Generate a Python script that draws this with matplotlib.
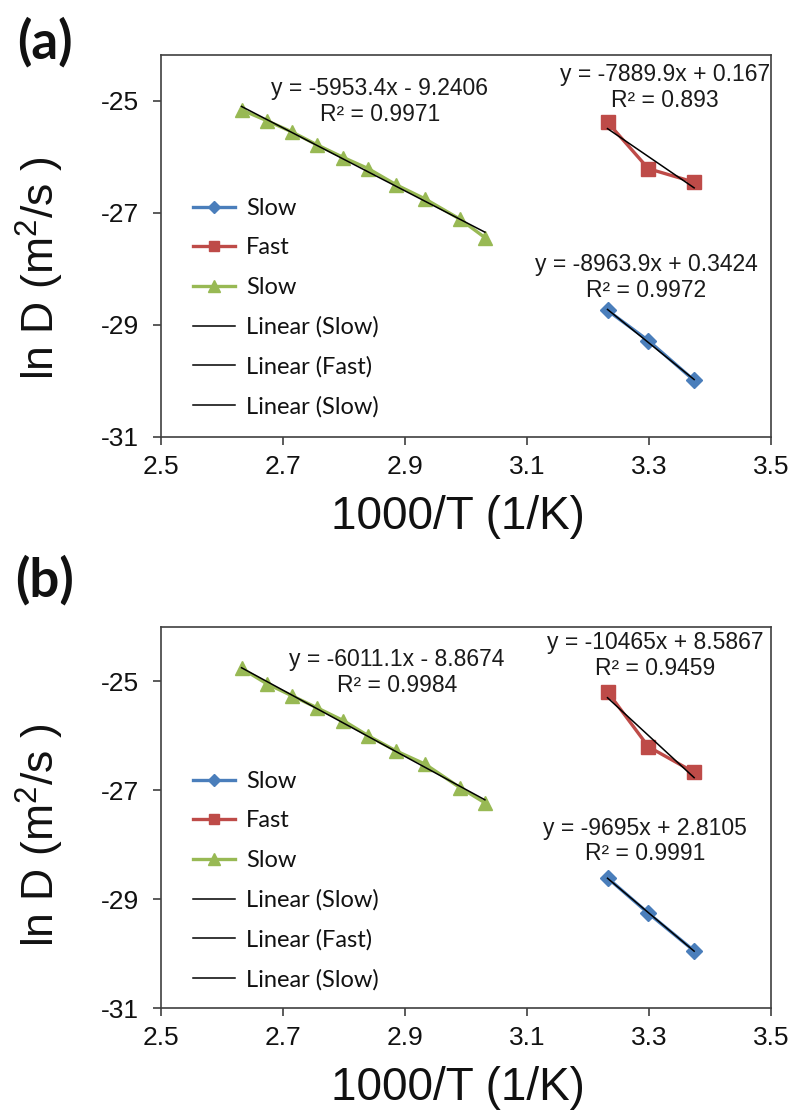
import numpy as np
import matplotlib
matplotlib.use("Agg")
import matplotlib.pyplot as plt

plt.rcParams["font.family"] = ["Liberation Sans", "DejaVu Sans"]
plt.rcParams["axes.unicode_minus"] = False
plt.rcParams["mathtext.default"] = "regular"

# 1000/T values
x_slow_hi = [2.632, 2.673, 2.714, 2.755, 2.799, 2.840, 2.886, 2.933, 2.990, 3.031]
x_low = [3.232, 3.299, 3.374]

# panel (a)
a_blue = [-28.74, -29.28, -29.99]
a_red = [-25.38, -26.21, -26.45]
a_green = [-25.16, -25.35, -25.55, -25.78, -26.01, -26.21, -26.50, -26.75, -27.11, -27.44]
a_eqs = ["y = -8963.9x + 0.3424\nR² = 0.9972",
         "y = -7889.9x + 0.167\nR² = 0.893",
         "y = -5953.4x - 9.2406\nR² = 0.9971"]

# panel (b)
b_blue = [-28.61, -29.26, -29.95]
b_red = [-25.19, -26.20, -26.67]
b_green = [-24.76, -25.04, -25.26, -25.48, -25.72, -26.00, -26.28, -26.52, -26.95, -27.23]
b_eqs = ["y = -9695x + 2.8105\nR² = 0.9991",
         "y = -10465x + 8.5867\nR² = 0.9459",
         "y = -6011.1x - 8.8674\nR² = 0.9984"]

series_names = ["Slow", "Fast", "Slow"]
colors = ["#4A7EBB", "#BE4B48", "#98B954"]
markers = ["D", "s", "^"]
msizes = [8, 9.5, 10.5]

W, H = 793, 1115
fig = plt.figure(figsize=(W / 100, H / 100), dpi=100)


def panel(box, ymax, blue, red, green, eqs, eq_pos, tag, tag_y, ylab_y, leg_top):
    left, top, right, bottom = box
    ax = fig.add_axes([left / W, 1 - bottom / H, (right - left) / W, (bottom - top) / H])
    xs = [x_low, x_low, x_slow_hi]
    ys = [blue, red, green]
    handles = []
    for x, y, c, m, ms, name in zip(xs, ys, colors, markers, msizes, series_names):
        ln, = ax.plot(x, y, color=c, marker=m, markersize=ms, lw=2.4,
                      markeredgecolor=c, label=name, zorder=2)
        handles.append(ln)
    # linear trendlines
    for x, y, name in zip(xs, ys, series_names):
        k, b = np.polyfit(x, y, 1)
        xx = np.array([min(x), max(x)])
        ln, = ax.plot(xx, k * xx + b, color="black", lw=1.1, zorder=3,
                      label="Linear (%s)" % name)
        handles.append(ln)
    for s, (px, py) in zip(eqs, eq_pos):
        ax.text(px, py, s, ha="center", va="center", fontsize=16.5,
                linespacing=1.15, color="#1a1a1a")

    ax.set_xlim(2.5, 3.5)
    ax.set_ylim(-31, ymax)
    ax.set_xticks(np.arange(2.5, 3.51, 0.2))
    ax.set_xticklabels(["2.5", "2.7", "2.9", "3.1", "3.3", "3.5"])
    ax.set_yticks([-31, -29, -27, -25])
    ax.tick_params(direction="out", length=6, width=1.2, labelsize=19,
                   color="#404040", labelcolor="#111111")
    ax.tick_params(axis="y", pad=10)
    ax.tick_params(axis="x", pad=7)
    for sp in ax.spines.values():
        sp.set_color("#404040")
        sp.set_linewidth(1.2)

    ax.set_xlabel("1000/T (1/K)", fontsize=33, color="#111111")
    ax.xaxis.set_label_coords((458 - left) / (right - left), -58 / (bottom - top))
    fig.text(40 / W, 1 - ylab_y / H, "ln D (m$^{2}$/s )", rotation=90,
             ha="center", va="center", fontsize=32, color="#111111")

    leg = ax.legend(handles=handles, loc="upper left",
                    bbox_to_anchor=(0.052, (bottom - leg_top) / (bottom - top)),
                    frameon=False,
                    prop={"family": "Lato", "size": 17}, handlelength=1.8,
                    handletextpad=0.45, labelspacing=0.78, borderpad=0,
                    borderaxespad=0, markerscale=0.8)
    for t in leg.get_texts():
        t.set_color("#111111")

    fig.text(45 / W, 1 - tag_y / H, tag, ha="center", va="center",
             fontsize=38, fontweight="bold", family="Lato", color="#111111")
    return ax


panel((161, 55, 771, 437), -24.18, a_blue, a_red, a_green, a_eqs,
      [(3.295, -28.15), (3.326, -24.76), (2.859, -25.01)], "(a)", 42, 268, 198)
panel((161, 627, 771, 1008), -24.0, b_blue, b_red, b_green, b_eqs,
      [(3.293, -27.93), (3.310, -24.52), (2.887, -24.83)], "(b)", 580, 835, 771)

fig.savefig("out.png", dpi=100)
